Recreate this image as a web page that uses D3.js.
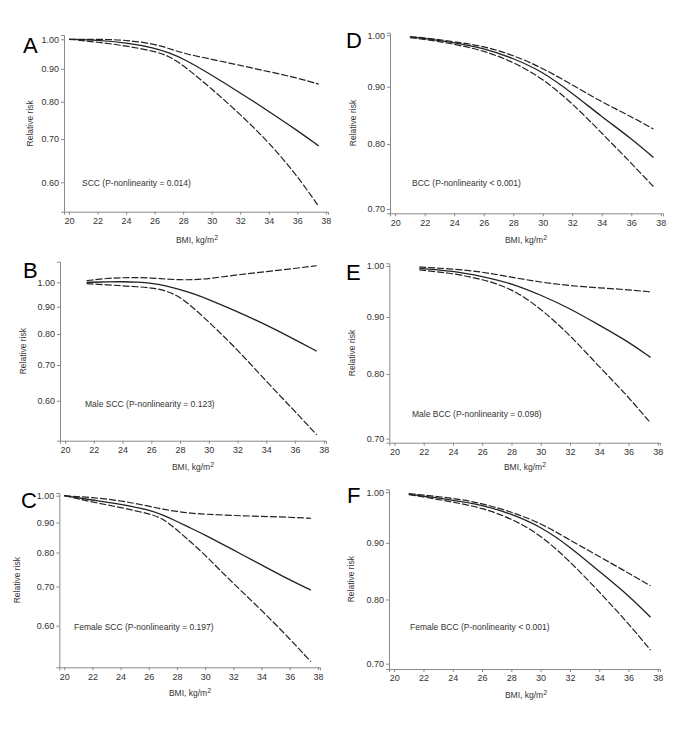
<!DOCTYPE html>
<html><head><meta charset="utf-8">
<script src="https://cdn.jsdelivr.net/npm/d3@7"></script>
<style>
body{margin:0;background:#fff;}
svg{display:block;font-family:Arial,"Liberation Sans",sans-serif;}
</style></head>
<body><svg id="chart" width="685" height="729"></svg>
<script>
// ---- data ----
const xTicks = [20,22,24,26,28,30,32,34,36,38];
const yTicksSCC = [0.60,0.70,0.80,0.90,1.00];
const yTicksBCC = [0.70,0.80,0.90,1.00];

const bmiA = [20,22,24,26,27,28,30,32,34,36,37.5];
const rrA  = [1.000,0.997,0.988,0.970,0.953,0.934,0.880,0.826,0.773,0.722,0.683];
const upA  = [1.000,1.000,0.998,0.983,0.968,0.951,0.931,0.911,0.891,0.871,0.852];
const loA  = [1.000,0.990,0.977,0.958,0.942,0.912,0.838,0.765,0.692,0.614,0.550];

const bmiB = [21.5,23,24,25,26,27,28,29,30,32,34,36,37.5];
const rrB  = [1.000,1.002,1.003,1.001,0.997,0.986,0.970,0.951,0.929,0.881,0.832,0.781,0.743];
const upB  = [1.007,1.018,1.020,1.021,1.019,1.014,1.011,1.011,1.016,1.033,1.047,1.062,1.074];
const loB  = [0.994,0.989,0.985,0.981,0.977,0.965,0.940,0.892,0.843,0.748,0.652,0.573,0.518];

const bmiC = [20,22,24,26,27,28,29,30,32,34,36,37.5];
const rrC  = [1.000,0.983,0.968,0.946,0.927,0.904,0.880,0.857,0.808,0.762,0.718,0.690];
const upC  = [1.000,0.993,0.981,0.960,0.948,0.940,0.933,0.930,0.925,0.922,0.919,0.915];
const loC  = [1.000,0.975,0.955,0.932,0.915,0.874,0.833,0.792,0.708,0.638,0.570,0.521];

const bmiD = [21,22,24,26,28,30,32,34,36,37.5];
const rrD  = [0.996,0.994,0.985,0.974,0.954,0.928,0.888,0.846,0.809,0.778];
const upD  = [0.997,0.995,0.987,0.978,0.960,0.935,0.903,0.872,0.846,0.825];
const loD  = [0.995,0.992,0.982,0.969,0.947,0.915,0.870,0.818,0.769,0.733];

const bmiE = [21.7,24,26,28,30,32,34,36,37.5];
const rrE  = [0.995,0.990,0.979,0.965,0.942,0.916,0.885,0.855,0.828];
const upE  = [0.998,0.994,0.988,0.977,0.967,0.960,0.956,0.952,0.948];
const loE  = [0.992,0.985,0.973,0.955,0.916,0.867,0.812,0.763,0.723];

const bmiF = [21,24,26,28,30,32,34,36,37.5];
const rrF  = [0.996,0.984,0.974,0.956,0.931,0.893,0.848,0.807,0.771];
const upF  = [0.997,0.988,0.977,0.960,0.938,0.905,0.875,0.845,0.823];
const loF  = [0.995,0.980,0.968,0.947,0.915,0.866,0.813,0.761,0.720];

const letters = ["A","B","C","D","E","F"];
const notes = ["SCC (P-nonlinearity = 0.014)","Male SCC (P-nonlinearity = 0.123)","Female SCC (P-nonlinearity = 0.197)",
               "BCC (P-nonlinearity < 0.001)","Male BCC (P-nonlinearity = 0.098)","Female BCC (P-nonlinearity < 0.001)"];
const yDomains = [[0.540,1.0155],[0.505,1.093],[0.5095,1.0107],[0.6938,1.0053],[0.6942,1.0056],[0.6923,1.006]];
const xDomain = [19.65,38.15];

// ---- layout ----
const layout = [
  {l:64,  r:328, t:35,    b:211.7, lx:23, ly:53,  tx:30,  bx:197, by:243, nx:82,  ny:186},
  {l:60,  r:326, t:261.7, b:440.7, lx:23, ly:278, tx:23,  bx:193, by:470, nx:85,  ny:407},
  {l:59.3,r:320, t:493,   b:667.3, lx:21, ly:508, tx:17,  bx:190, by:696, nx:74,  ny:630},
  {l:390, r:663, t:32.7,  b:213.3, lx:346,ly:48,  tx:353, bx:526, by:243, nx:412, ny:186},
  {l:389.3,r:660,t:263.3, b:442.7, lx:346,ly:280, tx:352, bx:525, by:470, nx:412, ny:417},
  {l:389, r:660, t:489.3, b:669,   lx:347,ly:503, tx:351, bx:526, by:698, nx:410, ny:630}
];
const panels = [
  {x:bmiA, rr:rrA, up:upA, lo:loA, yt:yTicksSCC},
  {x:bmiB, rr:rrB, up:upB, lo:loB, yt:yTicksSCC},
  {x:bmiC, rr:rrC, up:upC, lo:loC, yt:yTicksSCC},
  {x:bmiD, rr:rrD, up:upD, lo:loD, yt:yTicksBCC},
  {x:bmiE, rr:rrE, up:upE, lo:loE, yt:yTicksBCC},
  {x:bmiF, rr:rrF, up:upF, lo:loF, yt:yTicksBCC}
];

const svg = d3.select("#chart");
const axisCol = "#8a8a8a", txtCol = "#333";

panels.forEach((p,i)=>{
  const L = layout[i];
  const x = d3.scaleLinear().domain(xDomain).range([L.l,L.r]);
  const y = d3.scaleLog().domain(yDomains[i]).range([L.b,L.t]);
  const g = svg.append("g");

  const xa = g.append("g").attr("transform",`translate(0,${L.b})`)
    .call(d3.axisBottom(x).tickValues(xTicks).tickSizeOuter(0).tickSize(3).tickPadding(3).tickFormat(d3.format("d")));
  const ya = g.append("g").attr("transform",`translate(${L.l},0)`)
    .call(d3.axisLeft(y).tickValues(p.yt).tickSizeOuter(0).tickSize(3).tickPadding(2).tickFormat(d3.format(".2f")));
  [xa,ya].forEach(a=>{
    a.select(".domain").attr("stroke",axisCol).attr("stroke-width",1);
    a.selectAll(".tick line").attr("stroke",axisCol);
    a.selectAll(".tick text").attr("fill",txtCol).style("font-size","9px").style("font-family","Arial, 'Liberation Sans', sans-serif");
  });

  const line = (arr)=>d3.line().x((d,k)=>x(p.x[k])).y(d=>y(d)).curve(d3.curveBasis)(arr);
  g.append("path").attr("d",line(p.up)).attr("fill","none").attr("stroke","#222").attr("stroke-width",1.2).attr("stroke-dasharray","7,2");
  g.append("path").attr("d",line(p.lo)).attr("fill","none").attr("stroke","#222").attr("stroke-width",1.2).attr("stroke-dasharray","7,2");
  g.append("path").attr("d",line(p.rr)).attr("fill","none").attr("stroke","#222").attr("stroke-width",1.3);

  g.append("text").attr("x",L.lx).attr("y",L.ly).text(letters[i])
    .style("font-size","22px").attr("fill","#000");
  g.append("text").attr("transform",`translate(${L.tx},${(L.t+L.b)/2}) rotate(-90)`)
    .attr("text-anchor","middle").attr("dy","0.35em").text("Relative risk")
    .style("font-size","8.5px").attr("fill",txtCol);
  const bt = g.append("text").attr("x",L.bx).attr("y",L.by).attr("text-anchor","middle")
    .style("font-size","8.5px").attr("fill",txtCol);
  bt.append("tspan").text("BMI, kg/m");
  bt.append("tspan").attr("dy","-3").style("font-size","7px").text("2");
  g.append("text").attr("x",L.nx).attr("y",L.ny).text(notes[i])
    .style("font-size","8.5px").attr("fill",txtCol);
});
</script></body></html>
